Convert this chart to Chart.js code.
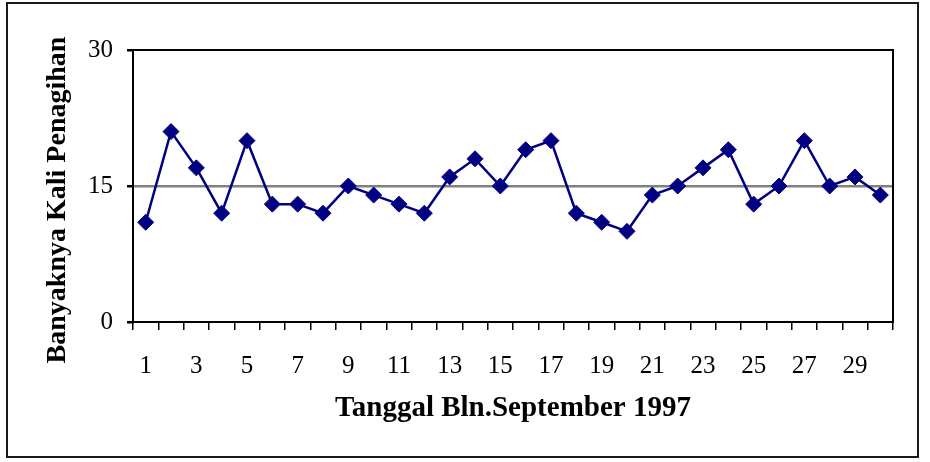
<!DOCTYPE html>
<html>
<head>
<meta charset="utf-8">
<script src="https://cdn.jsdelivr.net/npm/chart.js@4.4.1/dist/chart.umd.min.js"></script>
<style>
  html, body { margin: 0; padding: 0; background: #ffffff; }
  #wrap { width: 930px; height: 462px; position: relative; }
</style>
</head>
<body>
<div id="wrap"><canvas id="c" width="930" height="462"></canvas></div>
<script>
const categories = ["1","2","3","4","5","6","7","8","9","10","11","12","13","14","15","16","17","18","19","20","21","22","23","24","25","26","27","28","29","30"];
const penagihan = [11,21,17,12,20,13,13,12,15,14,13,12,16,18,15,19,20,12,11,10,14,15,17,19,13,15,20,15,16,14];
const yTicks = [0, 15, 30];
const xTitle = "Tanggal Bln.September 1997";
const yTitle = "Banyaknya Kali Penagihan";

const serif = '"Liberation Serif", "Times New Roman", serif';

const framePlugin = {
  id: 'frame',
  beforeDatasetsDraw(chart) {
    const {ctx, chartArea: a} = chart;
    ctx.save();
    ctx.strokeStyle = '#000000';
    ctx.lineWidth = 2;
    ctx.strokeRect(a.left, a.top, a.right - a.left, a.bottom - a.top);
    ctx.restore();
  },
  afterDraw(chart) {
    const {ctx} = chart;
    ctx.save();
    ctx.strokeStyle = '#1a1a1a';
    ctx.lineWidth = 2;
    ctx.strokeRect(7, 3, 911, 454);
    ctx.restore();
  }
};

new Chart(document.getElementById('c'), {
  type: 'line',
  data: {
    labels: categories,
    datasets: [{
      data: penagihan,
      borderColor: '#000080',
      backgroundColor: '#000080',
      borderWidth: 2.5,
      pointStyle: 'rectRot',
      pointRadius: 8,
      pointHoverRadius: 8,
      pointBorderWidth: 1,
      tension: 0
    }]
  },
  options: {
    responsive: false,
    animation: false,
    events: [],
    layout: { padding: { top: 50, right: 37, left: 0, bottom: 0 } },
    plugins: { legend: { display: false }, tooltip: { enabled: false } },
    scales: {
      x: {
        type: 'category',
        offset: true,
        grid: { offset: true, drawOnChartArea: false, tickLength: 8, tickColor: '#000000', lineWidth: 1.5 },
        border: { display: true, color: '#000000', width: 2 },
        ticks: {
          autoSkip: false, maxRotation: 0, minRotation: 0,
          color: '#000000', padding: 21,
          font: { family: serif, size: 25 },
          callback: function(v, i) { return i % 2 === 0 ? categories[i] : ''; }
        },
        title: {
          display: true, text: xTitle, color: '#000000',
          font: { family: serif, size: 29, weight: 'bold' },
          padding: { top: 0, bottom: 36 }
        },
        afterFit(scale) { scale.height = 140; }
      },
      y: {
        min: 0, max: 30,
        afterBuildTicks(scale) { scale.ticks = yTicks.map(v => ({ value: v })); },
        grid: {
          color: (c) => (c.tick && c.tick.value === 15) ? '#808080' : 'rgba(0,0,0,0)',
          lineWidth: 2.5,
          tickColor: '#000000',
          tickLength: 6
        },
        border: { display: true, color: '#000000', width: 2 },
        ticks: {
          color: '#000000', padding: 14,
          font: { family: serif, size: 25 }
        },
        title: {
          display: true, text: yTitle + "    ", color: '#000000',
          font: { family: serif, size: 28, weight: 'bold' },
          padding: { top: 41, bottom: 0 }
        },
        afterFit(scale) { scale.width = 133; }
      }
    }
  },
  plugins: [framePlugin]
});
</script>
</body>
</html>
